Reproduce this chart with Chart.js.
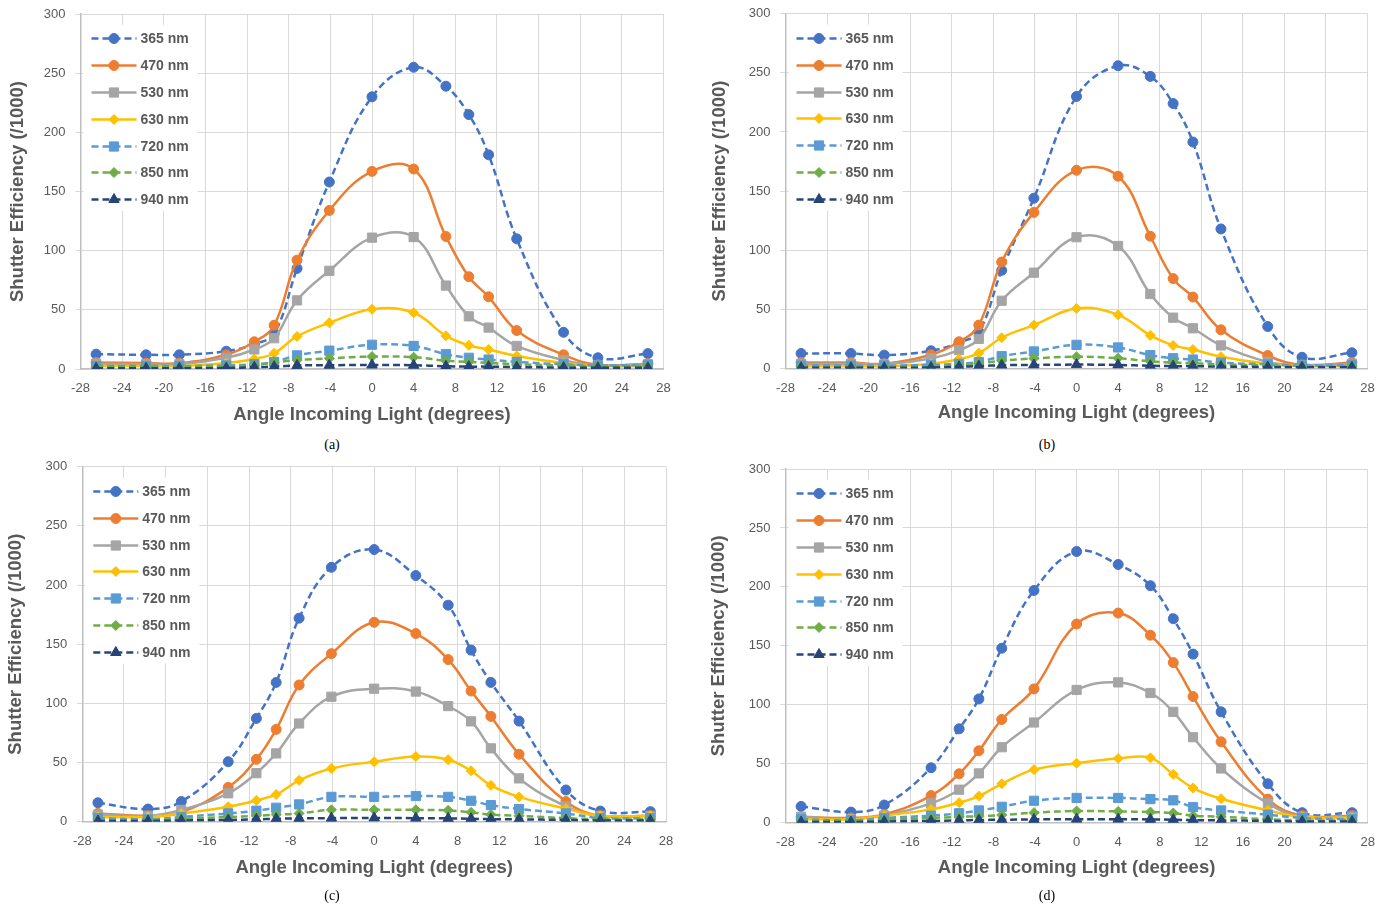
<!DOCTYPE html>
<html><head><meta charset="utf-8">
<script src="https://cdn.jsdelivr.net/npm/chart.js@4"></script>
<style>
html,body{margin:0;padding:0;background:#fff;}
body{width:1388px;height:909px;position:relative;overflow:hidden;}
canvas{position:absolute;}
.cap{position:absolute;font-family:"Liberation Serif","Times New Roman",serif;font-size:14px;color:#000;transform:translate(-50%,-50%);white-space:nowrap;}
</style></head><body>
<canvas id="ca" width="680" height="430" style="left:0px;top:0px"></canvas>
<canvas id="cb" width="688" height="430" style="left:700px;top:0px"></canvas>
<canvas id="cc" width="680" height="454" style="left:0px;top:455px"></canvas>
<canvas id="cd" width="688" height="454" style="left:700px;top:455px"></canvas>
<div class="cap" style="left:332px;top:445px">(a)</div>
<div class="cap" style="left:1047px;top:445px">(b)</div>
<div class="cap" style="left:332px;top:896px">(c)</div>
<div class="cap" style="left:1047px;top:896px">(d)</div>
<script>
// ---- data ----
const angles = [-26.5, -21.7, -18.5, -14, -11.3, -9.4, -7.2, -4.1, 0, 4, 7.1, 9.3, 11.2, 13.9, 18.4, 21.7, 26.5];
const seriesNames = ['365 nm', '470 nm', '530 nm', '630 nm', '720 nm', '850 nm', '940 nm'];
const xTitle = 'Angle Incoming Light (degrees)';
const yTitle = 'Shutter Efficiency (/1000)';

// panel (a)
const a365 = [12.5, 12, 12, 15, 21, 30, 85, 158, 230, 255, 239, 215, 181, 110, 31, 9.5, 13];
const a470 = [5.5, 5, 5, 12, 23, 37, 92, 134, 167, 169, 112, 78, 61, 32.5, 12, 3.5, 4.5];
const a530 = [4.5, 4, 4, 9.5, 16.5, 26, 58, 83, 111, 111.5, 70.5, 44.5, 35, 19.5, 7.5, 3, 4];
const a630 = [2.5, 2.5, 2.5, 5, 8.5, 13.3, 27.5, 39, 50.5, 47.5, 28, 20, 16.5, 11, 5, 2.5, 2.5];
const a720 = [2.5, 2.5, 2.5, 3, 4, 6, 11.5, 15.5, 20.5, 19.5, 12.5, 9.5, 8, 6, 4, 3, 3.5];
const a850 = [1.5, 1.5, 1.5, 2, 3.4, 5.4, 7.5, 9, 10.5, 10, 7, 6, 5.2, 4, 3, 2.5, 2.5];
const a940 = [0.6, 0.6, 0.6, 0.8, 1.5, 2, 3, 3.2, 3.4, 3.2, 2.3, 2, 2, 1.6, 1.2, 1, 1];
// panel (b)
const b365 = [12.7, 12.7, 11.3, 15, 22, 31, 83, 144, 230, 256, 247, 224, 191.5, 118, 35.5, 9.5, 13.3];
const b470 = [5, 5, 4, 11.6, 22.6, 36.7, 90, 132, 167.6, 162.6, 111.8, 76, 60.4, 32.7, 11, 3, 5];
const b530 = [4, 4, 3.5, 8.5, 15.5, 25, 57.3, 81, 111, 103.6, 63, 43, 34, 19.5, 5.6, 3, 4];
const b630 = [2, 2, 2, 4, 8, 13, 26, 36.7, 50.8, 45.4, 28, 19.5, 16, 10, 4, 2, 2];
const b720 = [2.5, 2.5, 2.5, 3, 4, 5.5, 10.4, 14.4, 20, 17.8, 11.3, 8.7, 7.6, 5, 3.5, 2.5, 3];
const b850 = [1.5, 1.5, 1.5, 2, 3, 4.5, 6.5, 8.5, 9.9, 8.7, 6, 5, 4.5, 3.5, 2.5, 2, 2];
const b940 = [0.6, 0.6, 0.6, 0.8, 1.5, 2, 2.8, 3, 3.3, 3, 2.3, 2, 2, 1.6, 1.2, 1, 1];
// panel (c)
const c365 = [16, 10.7, 17, 50.7, 87.3, 117.7, 172, 215, 230, 208, 183, 145, 117.7, 85, 26.8, 9, 8.5];
const c470 = [7, 5, 8, 29, 52.7, 78, 115.5, 142, 168.5, 159, 137, 110.4, 89, 57, 17, 5, 5];
const c530 = [6, 5, 10, 24, 41, 57.7, 83, 105.6, 112.4, 110, 97.7, 84.8, 62, 36.6, 13, 5, 5];
const c630 = [4, 4, 7, 12.7, 18, 23, 35, 45, 50.7, 55, 52.4, 43, 30.7, 21, 11, 5, 5];
const c720 = [3, 2, 4, 7, 9.3, 11.8, 14.6, 21, 21, 21.7, 21, 17.7, 14, 10.7, 7, 3, 3];
const c850 = [1.5, 1.5, 2.5, 4, 5, 6, 7, 10, 10, 10, 9.6, 7.9, 6, 5, 3, 2, 2];
const c940 = [0.6, 0.6, 1, 1.5, 2, 2.5, 2.8, 3, 3.2, 3, 2.8, 2.5, 2.2, 2, 1.5, 1, 1];
// panel (d)
const d365 = [13.8, 9, 15, 46.6, 79.6, 105, 148, 197, 230, 219, 201, 173, 143, 94, 33, 8.5, 8.5];
const d470 = [5, 4, 7, 23, 41.5, 61, 87.5, 113.5, 168.5, 177.8, 159, 135.8, 107, 68.6, 20, 6, 6];
const d530 = [5, 3, 6, 16.4, 28, 41.8, 64, 85, 112.6, 119, 110, 94, 72.5, 46, 16.4, 5, 5];
const d630 = [3, 3, 6, 11.3, 17, 22.6, 33, 45, 50.5, 54.5, 55, 41, 29.4, 20.3, 10.4, 5, 4];
const d720 = [3, 2, 4, 6, 8, 10.4, 13.5, 18.6, 21, 21, 20, 19, 13.3, 10.4, 6.8, 4, 3];
const d850 = [1.5, 1.5, 2.5, 4, 5, 5.5, 6.5, 8.5, 9.9, 9.6, 9, 8.2, 6, 5, 3, 2, 2];
const d940 = [0.6, 0.6, 1, 1.5, 2, 2.3, 2.5, 2.8, 3, 3, 2.8, 2.5, 2.2, 2, 1.5, 1, 1];

// ---- styles ----
const seriesStyles = [
  {color:'#4472C4', dash:[7,4], point:'circle',   r:5},
  {color:'#ED7D31', dash:[],    point:'circle',   r:5},
  {color:'#A5A5A5', dash:[],    point:'rect',     r:6.5},
  {color:'#FFC000', dash:[],    point:'rectRot',  r:5},
  {color:'#5B9BD5', dash:[7,4], point:'rect',     r:6.5},
  {color:'#70AD47', dash:[7,4], point:'rectRot',  r:5},
  {color:'#264478', dash:[7,4], point:'triangle', r:6}
];
const textColor = '#595959';
const gridColor = '#d9d9d9';
const fontFamily = '"Liberation Sans", Arial, Helvetica, sans-serif';

const panels = [
  {id:'ca', left:0,   top:0,   w:680, h:430, L:80.5,  R:663.5,  T:14,    B:369,   yTitleX:18,  xTitleY:415, series:[a365,a470,a530,a630,a720,a850,a940]},
  {id:'cb', left:700, top:0,   w:688, h:430, L:785.5, R:1367.5, T:13.7,  B:368.5, yTitleX:720, xTitleY:413, series:[b365,b470,b530,b630,b720,b850,b940]},
  {id:'cc', left:0,   top:455, w:680, h:454, L:82.3,  R:666,    T:466.7, B:821.7, yTitleX:16,  xTitleY:868, series:[c365,c470,c530,c630,c720,c850,c940]},
  {id:'cd', left:700, top:455, w:688, h:454, L:785.5, R:1367.7, T:469,   B:822.7, yTitleX:719, xTitleY:868, series:[d365,d470,d530,d630,d720,d850,d940]}
];

function drawMarker(ctx, style, r, x, y) {
  if (Chart.helpers && Chart.helpers.drawPoint) {
    Chart.helpers.drawPoint(ctx, {pointStyle: style, radius: r, rotation: 0, borderWidth: 1}, x, y);
  }
}

const lineLegend = {
  id: 'lineLegend',
  afterDatasetsDraw(chart) {
    const ctx = chart.ctx, a = chart.chartArea;
    ctx.save();
    ctx.fillStyle = '#ffffff';
    ctx.fillRect(a.left + 3, a.top + 11, 114, 186);
    chart.data.datasets.forEach((ds, i) => {
      const y = Math.round(a.top + 24.3 + i * 26.8) + 0.5;
      ctx.beginPath();
      ctx.setLineDash(ds.borderDash || []);
      ctx.strokeStyle = ds.borderColor;
      ctx.lineWidth = ds.borderWidth;
      ctx.moveTo(a.left + 11, y);
      ctx.lineTo(a.left + 56, y);
      ctx.stroke();
      ctx.setLineDash([]);
      ctx.fillStyle = ds.pointBackgroundColor;
      ctx.strokeStyle = ds.pointBorderColor;
      ctx.lineWidth = 1;
      drawMarker(ctx, ds.pointStyle, ds.pointRadius, a.left + 33.5, y);
      ctx.fillStyle = textColor;
      ctx.font = 'bold 14px ' + fontFamily;
      ctx.textAlign = 'left';
      ctx.textBaseline = 'middle';
      ctx.fillText(ds.label, a.left + 60, y + 0.5);
    });
    ctx.restore();
  }
};

// short (5px) tick marks left of the y axis, while labels sit 15px from it
function yTickColor(c) {
  const ch = c.chart, a = ch.chartArea;
  if (!a) return gridColor;
  const g = ch.ctx.createLinearGradient(a.left - 15, 0, a.left, 0);
  g.addColorStop(0, 'rgba(217,217,217,0)');
  g.addColorStop(0.66, 'rgba(217,217,217,0)');
  g.addColorStop(0.67, gridColor);
  g.addColorStop(1, gridColor);
  return g;
}

panels.forEach(p => {
  const yWidth = p.L - p.left;
  const xHeight = p.top + p.h - p.B;
  const want = {left: p.L - p.left, top: p.T - p.top, right: p.R - p.left, bottom: p.B - p.top};
  const datasets = p.series.map((vals, i) => {
    const s = seriesStyles[i];
    return {
      label: seriesNames[i],
      data: angles.map((x, k) => ({x: x, y: vals[k]})),
      borderColor: s.color,
      backgroundColor: s.color,
      pointBackgroundColor: s.color,
      pointBorderColor: s.color,
      pointBorderWidth: 1,
      borderWidth: 2.5,
      borderDash: s.dash,
      pointStyle: s.point,
      pointRadius: s.r,
      pointHoverRadius: s.r,
      tension: 0.4,
      fill: false,
      order: 6 - i
    };
  });
  const opts = {
    responsive: false,
    animation: false,
    devicePixelRatio: 1,
    events: [],
    layout: {padding: {left: 0, top: want.top, right: p.w - want.right, bottom: 0}},
    plugins: {legend: {display: false}, tooltip: {enabled: false}},
    scales: {
      x: {
        type: 'linear', min: -28, max: 28,
        ticks: {stepSize: 4, padding: 0, color: textColor, font: {family: fontFamily, size: 13}, maxRotation: 0},
        grid: {color: gridColor, lineWidth: 1, drawTicks: true, tickLength: 12, tickColor: 'rgba(0,0,0,0)'},
        border: {color: '#bfbfbf', width: 1.5},
        title: {display: true, text: xTitle, color: textColor,
                font: {family: fontFamily, size: 18.5, weight: 'bold'},
                padding: {top: 0, bottom: p.top + p.h - p.xTitleY - 11.1}},
        afterFit(scale) { scale.height = xHeight; }
      },
      y: {
        type: 'linear', min: 0, max: 300,
        ticks: {stepSize: 50, padding: 0, color: textColor, font: {family: fontFamily, size: 13}},
        grid: {color: gridColor, lineWidth: 1, drawTicks: true, tickLength: 15, tickColor: yTickColor},
        border: {color: '#bfbfbf', width: 1.5},
        title: {display: true, text: yTitle, color: textColor,
                font: {family: fontFamily, size: 18.5, weight: 'bold'},
                padding: {top: p.yTitleX - p.left - 11.1, bottom: 0}},
        afterFit(scale) { scale.width = yWidth; }
      }
    }
  };
  const chart = new Chart(document.getElementById(p.id), {type: 'line', data: {datasets}, plugins: [lineLegend], options: opts});
  // fine-tune the layout padding so the plot area lands where the reference has it
  for (let k = 0; k < 4; k++) {
    const a = chart.chartArea;
    const dT = want.top - a.top, dR = a.right - want.right;
    if (Math.abs(dT) < 0.05 && Math.abs(dR) < 0.05) break;
    const lp = chart.config.options.layout.padding;
    lp.top += dT; lp.right += dR;
    chart.update('none');
  }
});
</script>
</body></html>
